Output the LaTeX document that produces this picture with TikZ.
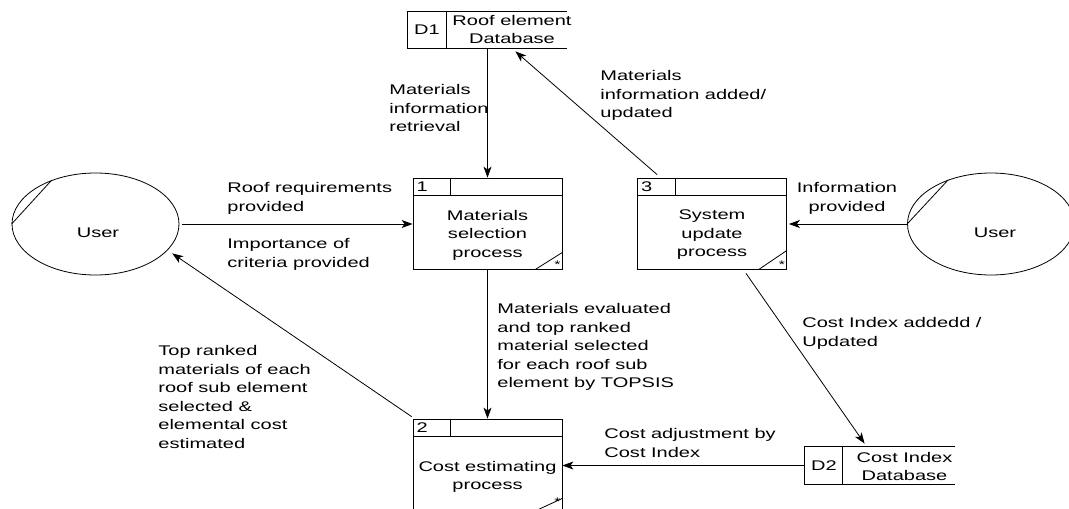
\documentclass[tikz,border=0pt]{standalone}
\usepackage{fontspec}
\setmainfont{Liberation Sans}[FakeStretch=1.43]
\usetikzlibrary{shapes.geometric,arrows.meta,calc}
\newcommand\lblfont{\fontsize{14}{18.5}\selectfont}
\begin{document}
\begin{tikzpicture}[x=1pt,y=-1pt,line width=0.8pt,
  every node/.style={font=\lblfont,inner sep=0pt},
  lbl/.style={align=left,anchor=north west},
  ctr/.style={align=center,anchor=north},
  proc/.style={draw,minimum width=149pt,minimum height=91pt},
  user/.style={draw,ellipse,minimum width=167pt,minimum height=102pt},
  star/.style={font=\fontsize{11}{11}\selectfont},
  arr/.style={-{Stealth[length=11pt,width=8pt,inset=3pt]}}]
\useasboundingbox (0,0) rectangle (1069,509);
\clip (0,0) rectangle (1069,509);

% external entities
\node[user] (u1) at (95.5,224) {};
\node (u1t) at (98,233) {User};
\draw (u1.180) -- (u1.135);
\node[user] (u2) at (991,224) {};
\node (u2t) at (995,233) {User};
\draw (u2.180) -- (u2.134);

% processes
\node[proc] (p1) at (487.5,223.5) {};
\node[proc] (p3) at (712,223.5) {};
\node[proc] (p2) at (487.5,464.5) {};
\foreach \p/\n in {p1/1,p2/2,p3/3} {
  \draw ([shift={(0,18)}]\p.north west) -- ([shift={(0,18)}]\p.north east);
  \draw ([shift={(38,0)}]\p.north west) -- ([shift={(38,18)}]\p.north west);
  \node at ([shift={(9.5,9)}]\p.north west) {\n};
}
\node[star] (s1) at ([shift={(-5,-5)}]p1.south east) {*};
\node[star] (s3) at ([shift={(-5,-5)}]p3.south east) {*};
\node[star] (s2) at ([shift={(-5,-9)}]p2.south east) {*};
\draw ([shift={(-27,0)}]p1.south east) -- ([shift={(0,-17)}]p1.south east);
\draw ([shift={(-28,0)}]p3.south east) -- ([shift={(0,-19)}]p3.south east);
\draw ([shift={(-26,0)}]p2.south east) -- ([shift={(0,-12)}]p2.south east);
\node[ctr] (p1t) at (487.5,209.8) {Materials\\selection\\process};
\node[ctr] (p3t) at (712,209.8) {System\\update\\process};
\node[ctr] (p2t) at (487.5,460.8) {Cost estimating\\process};

% data stores
\node[minimum width=159pt,minimum height=36pt] (d1) at (487.5,30) {};
\draw (d1.north east) -- (d1.north west) -- (d1.south west) -- (d1.south east);
\draw ([shift={(39,0)}]d1.north west) -- ([shift={(39,0)}]d1.south west);
\node (d1n) at (427,30) {D1};
\node[ctr] (d1t) at (512,14.8) {Roof element\\Database};

\node[minimum width=150pt,minimum height=37pt] (d2) at (880,465.5) {};
\draw (d2.north east) -- (d2.north west) -- (d2.south west) -- (d2.south east);
\draw ([shift={(38,0)}]d2.north west) -- ([shift={(38,0)}]d2.south west);
\node (d2n) at (824,466) {D2};
\node[ctr] (d2t) at (904.5,451.8) {Cost Index\\Database};

% connectors
\draw[arr] (p1.north |- d1.south) -- (p1.north);
\draw[arr] ([shift={(20,-3)}]p3.north west) -- ([shift={(-52,3)}]d1.south east);
\draw[arr,shorten <=3pt] (u1.east) -- (p1.west |- u1.east);
\draw[arr,shorten >=5.5pt] ([shift={(-1,-2)}]p2.north west) -- (u1.-20);
\draw[arr] (p1.south) -- (p2.north);
\draw[arr,shorten >=2pt] (u2.west) -- (p3.east |- u2.west);
\draw[arr] ([shift={(34,4)}]p3.south) -- ([shift={(60,-3)}]d2.north west);
\draw[arr] (d2.west) -- (p2.east |- d2.west);

% flow labels
\node[lbl] (l1) at (389,84) {Materials\\information\\retrieval};
\node[lbl] (l2) at (600,70) {Materials\\information added/\\updated};
\node[lbl] (l3) at (227,182) {Roof requirements\\provided};
\node[lbl] (l4) at (227,238) {Importance of\\criteria provided};
\node[lbl] (l5) at (158,345) {Top ranked\\materials of each\\roof sub element\\selected \&\\elemental cost\\estimated};
\node[lbl] (l6) at (497,303) {Materials evaluated\\and top ranked\\material selected\\for each roof sub\\element by TOPSIS};
\node[ctr] (l7) at (847,182) {Information\\provided};
\node[lbl] (l8) at (802,317) {Cost Index addedd /\\Updated};
\node[lbl] (l9) at (604,428) {Cost adjustment by\\Cost Index};
\end{tikzpicture}
\end{document}
